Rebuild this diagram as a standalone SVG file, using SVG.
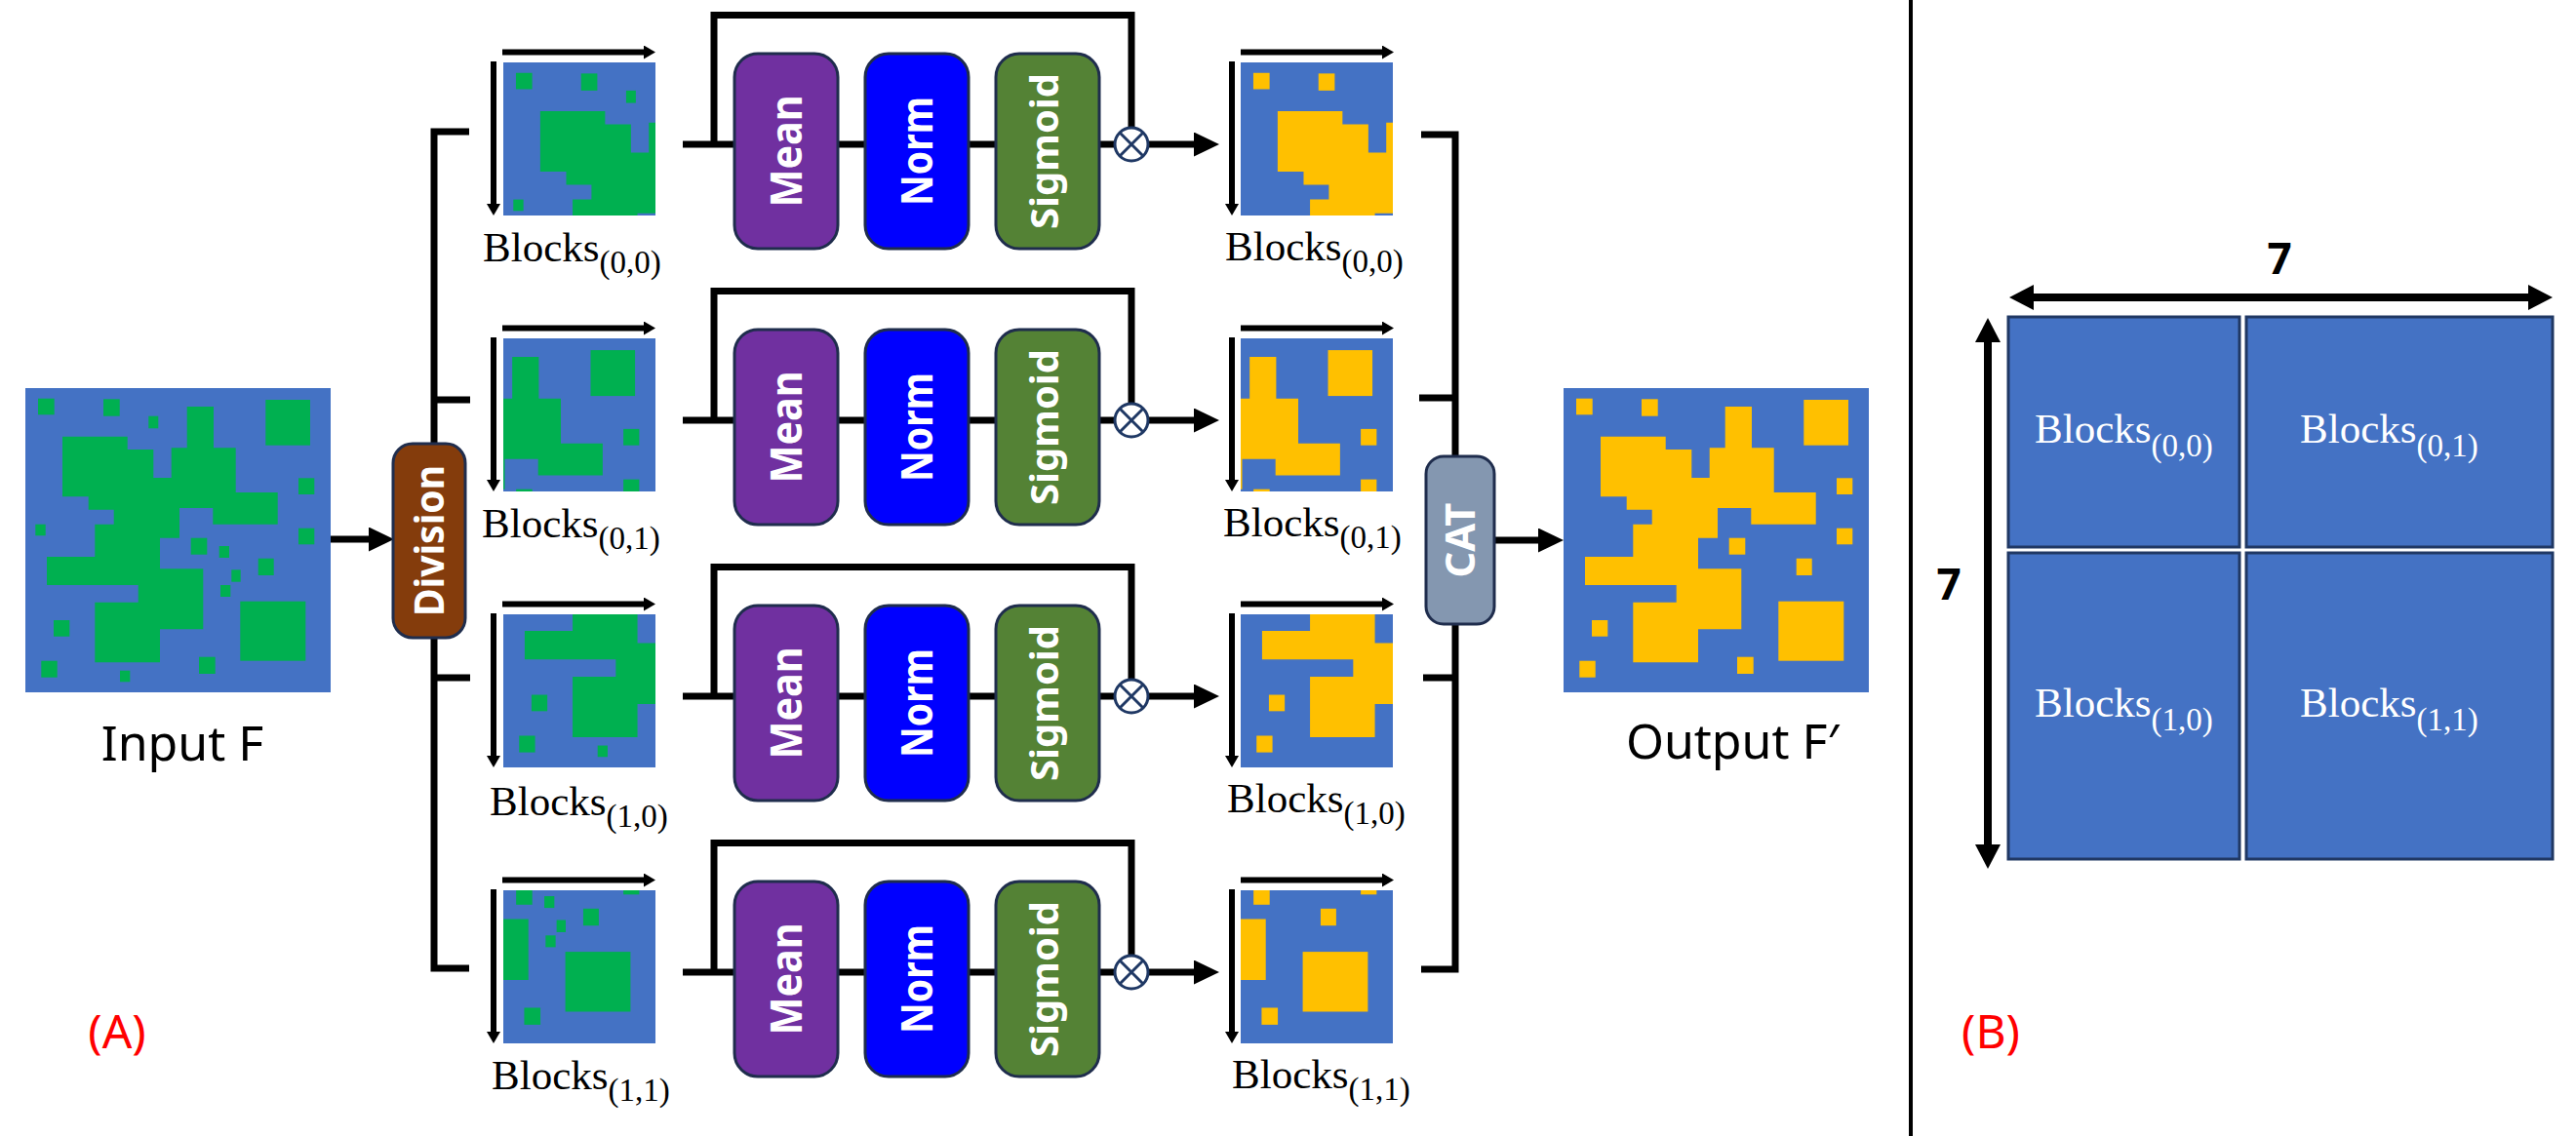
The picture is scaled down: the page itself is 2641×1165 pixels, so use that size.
<svg xmlns="http://www.w3.org/2000/svg" xmlns:xlink="http://www.w3.org/1999/xlink" width="2641" height="1165" viewBox="0 0 2641 1165">
<style>
.ln{stroke:#000;stroke-width:7;fill:none;stroke-linejoin:miter}
.thin{stroke:#000;stroke-width:6;fill:none}
.bar{stroke:#000;stroke-width:8;fill:none}
.box{stroke:#1f2d4d;stroke-width:3}
.bt{font-family:"Noto Sans","Open Sans",sans-serif;font-weight:700;fill:#fff;text-anchor:middle}
.lbl{font-family:"Liberation Serif",serif;font-size:43px;fill:#000}
.wl{font-family:"Liberation Serif",serif;font-size:43px;fill:#fff}
.sub{font-size:33px}
.cap{font-family:"Noto Sans","Open Sans",sans-serif;font-size:50px;fill:#000;text-anchor:middle}
.tag{font-family:"Noto Sans","Open Sans",sans-serif;font-size:48px;fill:#ff0000;text-anchor:middle}
.dim{font-family:"Noto Sans","Open Sans",sans-serif;font-size:44px;font-weight:700;fill:#000;text-anchor:middle}
.cell{fill:#4472c4;stroke:#203864;stroke-width:3}
.mul{fill:#fff;stroke:#1f3864;stroke-width:3}
</style>
<defs>
<marker id="hs" markerUnits="userSpaceOnUse" viewBox="0 0 12 14" markerWidth="12" markerHeight="14" refX="0" refY="7" orient="auto"><path d="M0,0 L12,7 L0,14 z" fill="#000"/></marker>
<marker id="hb" markerUnits="userSpaceOnUse" viewBox="0 0 26 25" markerWidth="26" markerHeight="25" refX="0" refY="12.5" orient="auto"><path d="M0,0 L26,12.5 L0,25 z" fill="#000"/></marker>
<marker id="hd" markerUnits="userSpaceOnUse" viewBox="0 0 25 26" markerWidth="25" markerHeight="26" refX="0" refY="13" orient="auto-start-reverse"><path d="M0,0 L25,13 L0,26 z" fill="#000"/></marker>
<g id="pat-main">
<polygon points="38,49.7 104.7,49.7 104.7,63 131.3,63 131.3,92 149.7,92 149.7,61.3 165.7,61.3 165.7,19 193,19 193,61.3 215.7,61.3 215.7,107 258.7,107 258.7,139.7 192.3,139.7 192.3,123 158,123 158,153.7 138,153.7 138,185.3 182.3,185.3 182.3,247.3 138,247.3 138,281.3 71.3,281.3 71.3,219.7 115.7,219.7 115.7,202 22,202 22,173 71.3,173 71.3,139.7 90.7,139.7 90.7,124.7 64.7,124.7 64.7,111.3 38,111.3"/>
<rect x="13" y="10.7" width="16.7" height="16.6"/>
<rect x="80" y="11.3" width="16.7" height="17.4"/>
<rect x="246.3" y="12" width="45.7" height="46.7"/>
<rect x="280" y="92.3" width="16.3" height="16.7"/>
<rect x="280" y="143.7" width="16.3" height="16.6"/>
<rect x="169.7" y="153.7" width="16.6" height="17"/>
<rect x="238.7" y="174.7" width="16" height="17.3"/>
<rect x="29" y="238" width="16.3" height="16.7"/>
<rect x="220.3" y="218.7" width="67" height="61"/>
<rect x="16.3" y="279.7" width="16.4" height="17"/>
<rect x="178" y="275.7" width="16.7" height="17.3"/>
</g>
<g id="pat-tiny">
<rect x="126.3" y="28.7" width="10" height="12.6"/>
<rect x="10.3" y="139.7" width="10.4" height="11.6"/>
<rect x="198.7" y="162" width="10.3" height="12"/>
<rect x="211.3" y="186.3" width="9.4" height="12.4"/>
<rect x="200" y="202" width="10.3" height="12"/>
<rect x="97" y="289.7" width="10.3" height="11.6"/>
</g>
<g id="img-in"><rect width="313" height="312" fill="#4472c4"/><use href="#pat-main" fill="#00b050"/><use href="#pat-tiny" fill="#00b050"/></g>
<g id="img-out"><rect width="313" height="312" fill="#4472c4"/><use href="#pat-main" fill="#ffc000"/></g>
</defs>
<rect width="2641" height="1165" fill="#fff"/>

<g id="connectors">
<line class="ln" x1="339" y1="553" x2="378" y2="553" marker-end="url(#hb)"/>
<path class="ln" d="M481,135 H445 V993 H481 M445,410 H482 M445,695 H482"/>
<path class="ln" d="M1457,138 H1492 V994 H1457 M1492,408 H1455 M1492,695 H1459"/>
<line class="ln" x1="1532" y1="554" x2="1577" y2="554" marker-end="url(#hb)"/>
<!-- rows -->
<path class="ln" d="M700,148 H1143 M732,148 V15.5 H1160 V131"/>
<line class="ln" x1="1177" y1="148" x2="1224" y2="148" marker-end="url(#hb)"/>
<path class="ln" d="M700,431 H1143 M732,431 V298.5 H1160 V414"/>
<line class="ln" x1="1177" y1="431" x2="1224" y2="431" marker-end="url(#hb)"/>
<path class="ln" d="M700,714 H1143 M732,714 V581.5 H1160 V697"/>
<line class="ln" x1="1177" y1="714" x2="1224" y2="714" marker-end="url(#hb)"/>
<path class="ln" d="M700,997 H1143 M732,997 V864.5 H1160 V980"/>
<line class="ln" x1="1177" y1="997" x2="1224" y2="997" marker-end="url(#hb)"/>
<!-- block axis arrows -->
<line class="thin" x1="515" y1="53.5" x2="660" y2="53.5" marker-end="url(#hs)"/>
<line class="thin" x1="506" y1="63" x2="506" y2="209" marker-end="url(#hs)"/>
<line class="thin" x1="515" y1="336.5" x2="660" y2="336.5" marker-end="url(#hs)"/>
<line class="thin" x1="506" y1="346" x2="506" y2="492" marker-end="url(#hs)"/>
<line class="thin" x1="515" y1="619.5" x2="660" y2="619.5" marker-end="url(#hs)"/>
<line class="thin" x1="506" y1="629" x2="506" y2="775" marker-end="url(#hs)"/>
<line class="thin" x1="515" y1="902.5" x2="660" y2="902.5" marker-end="url(#hs)"/>
<line class="thin" x1="506" y1="912" x2="506" y2="1058" marker-end="url(#hs)"/>
<line class="thin" x1="1272" y1="53.5" x2="1417" y2="53.5" marker-end="url(#hs)"/>
<line class="thin" x1="1263" y1="63" x2="1263" y2="209" marker-end="url(#hs)"/>
<line class="thin" x1="1272" y1="336.5" x2="1417" y2="336.5" marker-end="url(#hs)"/>
<line class="thin" x1="1263" y1="346" x2="1263" y2="492" marker-end="url(#hs)"/>
<line class="thin" x1="1272" y1="619.5" x2="1417" y2="619.5" marker-end="url(#hs)"/>
<line class="thin" x1="1263" y1="629" x2="1263" y2="775" marker-end="url(#hs)"/>
<line class="thin" x1="1272" y1="902.5" x2="1417" y2="902.5" marker-end="url(#hs)"/>
<line class="thin" x1="1263" y1="912" x2="1263" y2="1058" marker-end="url(#hs)"/>
<!-- panel B dimension arrows -->
<line class="bar" x1="2085" y1="305" x2="2592" y2="305" marker-start="url(#hd)" marker-end="url(#hd)"/>
<line class="bar" x1="2038" y1="351" x2="2038" y2="866" marker-start="url(#hd)" marker-end="url(#hd)"/>
</g>

<g id="divider"><line x1="1959" y1="0" x2="1959" y2="1165" stroke="#000" stroke-width="4"/></g>

<g id="input">
<use href="#img-in" x="26" y="398"/>
<text class="cap" x="187" y="780">Input F</text>
</g>
<g id="division">
<rect class="box" x="403" y="455" width="74" height="199" rx="20" fill="#843c0c"/>
<text class="bt" font-size="42" x="0" y="15" textLength="155" lengthAdjust="spacingAndGlyphs" transform="translate(440,554.5) rotate(-90)">Division</text>
</g>

<g id="block-in-00">
<svg x="516" y="64" width="156" height="157" viewBox="0 0 156.5 156" preserveAspectRatio="none"><use href="#img-in"/></svg>
<text class="lbl" x="495" y="268">Blocks<tspan class="sub" dy="12">(0,0)</tspan></text>
</g>
<g id="block-in-01">
<svg x="516" y="347" width="156" height="157" viewBox="156.5 0 156.5 156" preserveAspectRatio="none"><use href="#img-in"/></svg>
<text class="lbl" x="494" y="551">Blocks<tspan class="sub" dy="12">(0,1)</tspan></text>
</g>
<g id="block-in-10">
<svg x="516" y="630" width="156" height="157" viewBox="0 156 156.5 156" preserveAspectRatio="none"><use href="#img-in"/></svg>
<text class="lbl" x="502" y="836">Blocks<tspan class="sub" dy="12">(1,0)</tspan></text>
</g>
<g id="block-in-11">
<svg x="516" y="913" width="156" height="157" viewBox="156.5 156 156.5 156" preserveAspectRatio="none"><use href="#img-in"/></svg>
<text class="lbl" x="504" y="1117">Blocks<tspan class="sub" dy="12">(1,1)</tspan></text>
</g>

<g id="row0-ops">
<rect class="box" x="753" y="55" width="106" height="200" rx="24" fill="#7030a0"/>
<text class="bt" font-size="44" x="0" y="16" textLength="115" lengthAdjust="spacingAndGlyphs" transform="translate(806,155) rotate(-90)">Mean</text>
<rect class="box" x="887" y="55" width="106" height="200" rx="24" fill="#0000ff"/>
<text class="bt" font-size="44" x="0" y="16" textLength="112" lengthAdjust="spacingAndGlyphs" transform="translate(940,155) rotate(-90)">Norm</text>
<rect class="box" x="1021" y="55" width="106" height="200" rx="24" fill="#548235"/>
<text class="bt" font-size="40" x="0" y="11" textLength="160" lengthAdjust="spacingAndGlyphs" transform="translate(1074,155) rotate(-90)">Sigmoid</text>
<circle class="mul" cx="1160" cy="148" r="17"/>
<path class="mul" d="M1148,136 L1172,160 M1172,136 L1148,160"/>
</g>
<g id="row1-ops">
<rect class="box" x="753" y="338" width="106" height="200" rx="24" fill="#7030a0"/>
<text class="bt" font-size="44" x="0" y="16" textLength="115" lengthAdjust="spacingAndGlyphs" transform="translate(806,438) rotate(-90)">Mean</text>
<rect class="box" x="887" y="338" width="106" height="200" rx="24" fill="#0000ff"/>
<text class="bt" font-size="44" x="0" y="16" textLength="112" lengthAdjust="spacingAndGlyphs" transform="translate(940,438) rotate(-90)">Norm</text>
<rect class="box" x="1021" y="338" width="106" height="200" rx="24" fill="#548235"/>
<text class="bt" font-size="40" x="0" y="11" textLength="160" lengthAdjust="spacingAndGlyphs" transform="translate(1074,438) rotate(-90)">Sigmoid</text>
<circle class="mul" cx="1160" cy="431" r="17"/>
<path class="mul" d="M1148,419 L1172,443 M1172,419 L1148,443"/>
</g>
<g id="row2-ops">
<rect class="box" x="753" y="621" width="106" height="200" rx="24" fill="#7030a0"/>
<text class="bt" font-size="44" x="0" y="16" textLength="115" lengthAdjust="spacingAndGlyphs" transform="translate(806,721) rotate(-90)">Mean</text>
<rect class="box" x="887" y="621" width="106" height="200" rx="24" fill="#0000ff"/>
<text class="bt" font-size="44" x="0" y="16" textLength="112" lengthAdjust="spacingAndGlyphs" transform="translate(940,721) rotate(-90)">Norm</text>
<rect class="box" x="1021" y="621" width="106" height="200" rx="24" fill="#548235"/>
<text class="bt" font-size="40" x="0" y="11" textLength="160" lengthAdjust="spacingAndGlyphs" transform="translate(1074,721) rotate(-90)">Sigmoid</text>
<circle class="mul" cx="1160" cy="714" r="17"/>
<path class="mul" d="M1148,702 L1172,726 M1172,702 L1148,726"/>
</g>
<g id="row3-ops">
<rect class="box" x="753" y="904" width="106" height="200" rx="24" fill="#7030a0"/>
<text class="bt" font-size="44" x="0" y="16" textLength="115" lengthAdjust="spacingAndGlyphs" transform="translate(806,1004) rotate(-90)">Mean</text>
<rect class="box" x="887" y="904" width="106" height="200" rx="24" fill="#0000ff"/>
<text class="bt" font-size="44" x="0" y="16" textLength="112" lengthAdjust="spacingAndGlyphs" transform="translate(940,1004) rotate(-90)">Norm</text>
<rect class="box" x="1021" y="904" width="106" height="200" rx="24" fill="#548235"/>
<text class="bt" font-size="40" x="0" y="11" textLength="160" lengthAdjust="spacingAndGlyphs" transform="translate(1074,1004) rotate(-90)">Sigmoid</text>
<circle class="mul" cx="1160" cy="997" r="17"/>
<path class="mul" d="M1148,985 L1172,1009 M1172,985 L1148,1009"/>
</g>

<g id="block-out-00">
<svg x="1272" y="64" width="156" height="157" viewBox="0 0 156.5 156" preserveAspectRatio="none"><use href="#img-out"/></svg>
<text class="lbl" x="1256" y="267">Blocks<tspan class="sub" dy="12">(0,0)</tspan></text>
</g>
<g id="block-out-01">
<svg x="1272" y="347" width="156" height="157" viewBox="156.5 0 156.5 156" preserveAspectRatio="none"><use href="#img-out"/></svg>
<text class="lbl" x="1254" y="550">Blocks<tspan class="sub" dy="12">(0,1)</tspan></text>
</g>
<g id="block-out-10">
<svg x="1272" y="630" width="156" height="157" viewBox="0 156 156.5 156" preserveAspectRatio="none"><use href="#img-out"/></svg>
<text class="lbl" x="1258" y="833">Blocks<tspan class="sub" dy="12">(1,0)</tspan></text>
</g>
<g id="block-out-11">
<svg x="1272" y="913" width="156" height="157" viewBox="156.5 156 156.5 156" preserveAspectRatio="none"><use href="#img-out"/></svg>
<text class="lbl" x="1263" y="1116">Blocks<tspan class="sub" dy="12">(1,1)</tspan></text>
</g>

<g id="cat">
<rect class="box" x="1462" y="468" width="70" height="172" rx="18" fill="#8497b0"/>
<text class="bt" font-size="42" x="0" y="15" textLength="77" lengthAdjust="spacingAndGlyphs" transform="translate(1497,554) rotate(-90)">CAT</text>
</g>
<g id="output">
<use href="#img-out" x="1603" y="398"/>
<text class="cap" x="1776" y="778">Output F′</text>
</g>

<text class="tag" x="120" y="1075">(A)</text>
<text class="tag" x="2041" y="1075">(B)</text>

<g id="panel-b">
<rect class="cell" x="2059" y="325" width="237" height="236"/>
<rect class="cell" x="2303" y="325" width="314" height="236"/>
<rect class="cell" x="2059" y="567" width="237" height="314"/>
<rect class="cell" x="2303" y="567" width="314" height="314"/>
<text class="wl" x="2086" y="454">Blocks<tspan class="sub" dy="14">(0,0)</tspan></text>
<text class="wl" x="2358" y="454">Blocks<tspan class="sub" dy="14">(0,1)</tspan></text>
<text class="wl" x="2086" y="735">Blocks<tspan class="sub" dy="14">(1,0)</tspan></text>
<text class="wl" x="2358" y="735">Blocks<tspan class="sub" dy="14">(1,1)</tspan></text>
<text class="dim" x="2337" y="281">7</text>
<text class="dim" x="1998" y="615">7</text>
</g>
</svg>
